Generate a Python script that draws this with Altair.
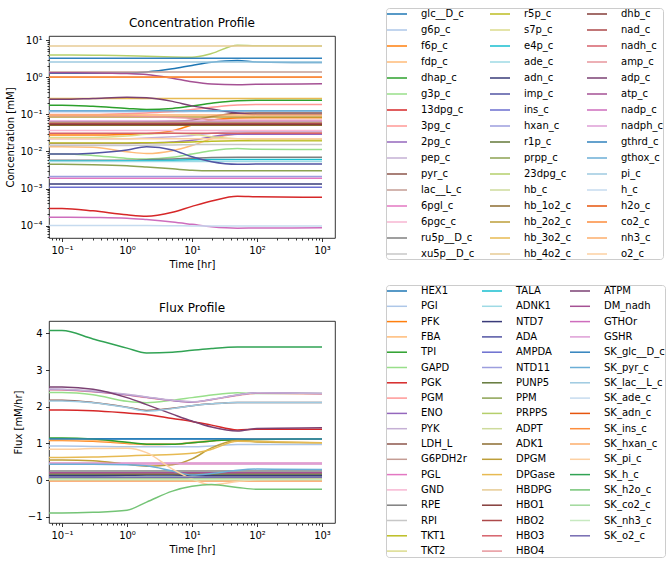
import altair as alt
import pandas as pd

# Sample times [hr]; the first entry stands for the initial state.
TIME = [0.01, 0.1, 0.3, 1, 2, 5, 10, 20, 50, 100, 1000]

# ---------------- metabolite concentrations [mM] ----------------
glc__D_c = [1.3, 1.3, 1.3, 1.32, 1.4, 1.7, 2.1, 2.55, 2.85, 2.6, 2.5]
g6p_c = [0.118, 0.118, 0.118, 0.118, 0.118, 0.118, 0.119, 0.12, 0.12, 0.12, 0.12]
f6p_c = [0.028, 0.028, 0.028, 0.029, 0.030, 0.036, 0.052, 0.07, 0.08, 0.081, 0.081]
fdp_c = [0.0135, 0.0135, 0.013, 0.0098, 0.0088, 0.0105, 0.0145, 0.022, 0.03, 0.032, 0.032]
dhap_c = [0.178, 0.178, 0.165, 0.145, 0.136, 0.145, 0.168, 0.2, 0.235, 0.24, 0.24]
g3p_c = [0.0085, 0.0085, 0.0078, 0.0065, 0.0063, 0.007, 0.0085, 0.0105, 0.012, 0.0115, 0.0113]
_13dpg_c = [2.9e-4, 2.9e-4, 2.5e-4, 1.95e-4, 1.8e-4, 2.3e-4, 3.3e-4, 4.6e-4, 6.2e-4, 6.0e-4, 5.8e-4]
_3pg_c = [0.1, 0.1, 0.1, 0.105, 0.11, 0.12, 0.135, 0.155, 0.18, 0.185, 0.185]
_2pg_c = [0.0165, 0.0165, 0.0165, 0.0165, 0.017, 0.018, 0.02, 0.025, 0.029, 0.029, 0.029]
pep_c = [0.022, 0.022, 0.022, 0.022, 0.023, 0.025, 0.027, 0.031, 0.034, 0.034, 0.034]
pyr_c = [0.062, 0.062, 0.062, 0.062, 0.063, 0.065, 0.07, 0.088, 0.107, 0.11, 0.11]
lac__L_c = [1.4, 1.4, 1.4, 1.4, 1.4, 1.4, 1.4, 1.4, 1.4, 1.4, 1.4]
_6pgl_c = [0.0019, 0.0019, 0.0019, 0.0019, 0.0019, 0.0019, 0.0019, 0.0019, 0.0019, 0.0019, 0.0019]
_6pgc_c = [0.037, 0.037, 0.037, 0.037, 0.037, 0.037, 0.037, 0.037, 0.037, 0.037, 0.037]
ru5p__D_c = [0.0058, 0.0058, 0.0058, 0.0058, 0.006, 0.0063, 0.0066, 0.0069, 0.007, 0.007, 0.007]
xu5p__D_c = [0.0145, 0.0145, 0.0145, 0.0146, 0.0148, 0.015, 0.0153, 0.0155, 0.0155, 0.0155, 0.0155]
r5p_c = [0.017, 0.017, 0.017, 0.017, 0.0172, 0.0175, 0.018, 0.019, 0.0195, 0.0195, 0.0195]
s7p_c = [0.024, 0.024, 0.024, 0.026, 0.029, 0.031, 0.029, 0.025, 0.022, 0.021, 0.021]
e4p_c = [0.0055, 0.0055, 0.0055, 0.0056, 0.0057, 0.0058, 0.006, 0.0061, 0.0061, 0.0061, 0.0061]
ade_c = [0.0054, 0.0054, 0.0054, 0.0054, 0.0054, 0.0054, 0.0054, 0.0054, 0.0054, 0.0054, 0.0054]
adn_c = [0.00133, 0.00133, 0.00133, 0.00133, 0.00133, 0.00133, 0.00133, 0.00133, 0.00133, 0.00133, 0.00133]
imp_c = [0.0085, 0.0085, 0.009, 0.011, 0.0135, 0.011, 0.0072, 0.0053, 0.0045, 0.0046, 0.0046]
ins_c = [0.00108, 0.00108, 0.00108, 0.00108, 0.00108, 0.00108, 0.00108, 0.00108, 0.00108, 0.00108, 0.00108]
hxan_c = [0.0021, 0.0021, 0.0021, 0.0021, 0.0021, 0.0021, 0.0021, 0.0021, 0.0021, 0.0021, 0.0021]
r1p_c = [0.062, 0.062, 0.062, 0.062, 0.062, 0.062, 0.062, 0.062, 0.062, 0.062, 0.062]
prpp_c = [0.0045, 0.0045, 0.0044, 0.0041, 0.0038, 0.0034, 0.0031, 0.003, 0.003, 0.003, 0.003]
_23dpg_c = [4.0, 4.0, 3.95, 3.85, 3.7, 3.55, 3.5, 4.4, 7.4, 7.1, 7.0]
hb_c = [0.06, 0.06, 0.06, 0.06, 0.06, 0.06, 0.06, 0.06, 0.06, 0.06, 0.06]
hb_1o2_c = [0.051, 0.051, 0.051, 0.051, 0.051, 0.051, 0.051, 0.051, 0.051, 0.051, 0.051]
hb_2o2_c = [0.085, 0.085, 0.085, 0.085, 0.085, 0.085, 0.085, 0.085, 0.085, 0.085, 0.085]
hb_3o2_c = [0.27, 0.27, 0.27, 0.27, 0.27, 0.27, 0.27, 0.27, 0.27, 0.27, 0.27]
hb_4o2_c = [7.0, 7.0, 7.0, 7.0, 7.0, 7.0, 7.0, 7.0, 7.0, 7.0, 7.0]
dhb_c = [0.054, 0.054, 0.054, 0.054, 0.054, 0.054, 0.054, 0.054, 0.054, 0.054, 0.054]
nad_c = [0.058, 0.058, 0.058, 0.058, 0.058, 0.058, 0.058, 0.058, 0.058, 0.058, 0.058]
nadh_c = [0.031, 0.031, 0.031, 0.031, 0.031, 0.031, 0.031, 0.031, 0.031, 0.031, 0.031]
amp_c = [0.092, 0.092, 0.092, 0.09, 0.088, 0.083, 0.078, 0.073, 0.07, 0.07, 0.07]
adp_c = [0.255, 0.255, 0.27, 0.29, 0.28, 0.225, 0.17, 0.14, 0.11, 0.1, 0.1]
atp_c = [1.33, 1.33, 1.32, 1.27, 1.2, 0.95, 0.76, 0.66, 0.63, 0.65, 0.67]
nadp_c = [1.68e-4, 1.68e-4, 1.65e-4, 1.58e-4, 1.45e-4, 1.25e-4, 1.08e-4, 9.3e-5, 8.5e-5, 8.6e-5, 8.7e-5]
nadph_c = [0.066, 0.066, 0.066, 0.066, 0.066, 0.066, 0.066, 0.066, 0.066, 0.066, 0.066]
gthrd_c = [3.26, 3.26, 3.26, 3.26, 3.26, 3.26, 3.26, 3.26, 3.26, 3.26, 3.26]
gthox_c = [0.125, 0.125, 0.125, 0.125, 0.125, 0.125, 0.125, 0.125, 0.125, 0.125, 0.125]
pi_c = [2.6, 2.6, 2.6, 2.6, 2.6, 2.6, 2.6, 2.6, 2.6, 2.6, 2.6]
h_c = [1.0e-4, 1.0e-4, 1.0e-4, 1.0e-4, 1.0e-4, 9.9e-5, 9.8e-5, 9.7e-5, 9.7e-5, 9.7e-5, 9.7e-5]
h2o_c = [1.0, 1.0, 1.0, 1.0, 1.0, 1.0, 1.0, 1.0, 1.0, 1.0, 1.0]
co2_c = [1.0, 1.0, 1.0, 1.0, 1.0, 1.0, 1.0, 1.0, 1.0, 1.0, 1.0]
nh3_c = [0.096, 0.096, 0.096, 0.096, 0.096, 0.096, 0.096, 0.096, 0.096, 0.096, 0.096]
o2_c = [0.022, 0.022, 0.022, 0.022, 0.022, 0.022, 0.022, 0.022, 0.022, 0.022, 0.022]

CONC_SERIES = [
    ("glc__D_c", glc__D_c), ("g6p_c", g6p_c), ("f6p_c", f6p_c), ("fdp_c", fdp_c),
    ("dhap_c", dhap_c), ("g3p_c", g3p_c), ("13dpg_c", _13dpg_c), ("3pg_c", _3pg_c),
    ("2pg_c", _2pg_c), ("pep_c", pep_c), ("pyr_c", pyr_c), ("lac__L_c", lac__L_c),
    ("6pgl_c", _6pgl_c), ("6pgc_c", _6pgc_c), ("ru5p__D_c", ru5p__D_c), ("xu5p__D_c", xu5p__D_c),
    ("r5p_c", r5p_c), ("s7p_c", s7p_c), ("e4p_c", e4p_c), ("ade_c", ade_c),
    ("adn_c", adn_c), ("imp_c", imp_c), ("ins_c", ins_c), ("hxan_c", hxan_c),
    ("r1p_c", r1p_c), ("prpp_c", prpp_c), ("23dpg_c", _23dpg_c), ("hb_c", hb_c),
    ("hb_1o2_c", hb_1o2_c), ("hb_2o2_c", hb_2o2_c), ("hb_3o2_c", hb_3o2_c), ("hb_4o2_c", hb_4o2_c),
    ("dhb_c", dhb_c), ("nad_c", nad_c), ("nadh_c", nadh_c), ("amp_c", amp_c),
    ("adp_c", adp_c), ("atp_c", atp_c), ("nadp_c", nadp_c), ("nadph_c", nadph_c),
    ("gthrd_c", gthrd_c), ("gthox_c", gthox_c), ("pi_c", pi_c), ("h_c", h_c),
    ("h2o_c", h2o_c), ("co2_c", co2_c), ("nh3_c", nh3_c), ("o2_c", o2_c),
]

# ---------------- reaction fluxes [mM/hr] ----------------
HEX1 = [1.13, 1.13, 1.13, 1.13, 1.13, 1.13, 1.13, 1.13, 1.13, 1.13, 1.13]
PGI = [0.93, 0.93, 0.92, 0.91, 0.91, 0.91, 0.91, 0.93, 0.97, 0.97, 0.97]
PFK = [1.08, 1.08, 1.06, 1.0, 0.97, 0.98, 1.02, 1.07, 1.1, 1.11, 1.12]
FBA = [1.1, 1.1, 1.08, 1.02, 0.99, 0.99, 1.03, 1.08, 1.11, 1.12, 1.12]
TPI = [1.15, 1.15, 1.12, 1.03, 0.98, 0.98, 1.02, 1.07, 1.1, 1.11, 1.12]
GAPD = [2.39, 2.39, 2.33, 2.15, 2.11, 2.18, 2.25, 2.32, 2.38, 2.36, 2.36]
PGK = [1.91, 1.91, 1.89, 1.83, 1.79, 1.68, 1.6, 1.5, 1.37, 1.39, 1.39]
PGM = [2.47, 2.46, 2.41, 2.32, 2.25, 2.17, 2.13, 2.19, 2.31, 2.37, 2.35]
ENO = [2.48, 2.47, 2.42, 2.33, 2.26, 2.17, 2.13, 2.2, 2.32, 2.38, 2.36]
PYK = [2.49, 2.48, 2.43, 2.34, 2.27, 2.18, 2.14, 2.2, 2.32, 2.38, 2.36]
LDH_L = [2.18, 2.18, 2.12, 1.99, 1.9, 1.96, 2.03, 2.08, 2.12, 2.12, 2.12]
G6PDH2r = [0.45, 0.45, 0.45, 0.45, 0.45, 0.45, 0.45, 0.45, 0.45, 0.45, 0.45]
PGL = [0.45, 0.45, 0.45, 0.45, 0.45, 0.45, 0.45, 0.45, 0.45, 0.45, 0.45]
GND = [0.45, 0.45, 0.45, 0.45, 0.45, 0.45, 0.45, 0.45, 0.45, 0.45, 0.45]
RPE = [0.25, 0.25, 0.25, 0.25, 0.25, 0.25, 0.25, 0.25, 0.25, 0.25, 0.25]
RPI = [0.2, 0.2, 0.2, 0.2, 0.2, 0.2, 0.2, 0.2, 0.2, 0.2, 0.2]
TKT1 = [0.15, 0.15, 0.15, 0.15, 0.15, 0.15, 0.15, 0.15, 0.15, 0.15, 0.15]
TKT2 = [0.1, 0.1, 0.1, 0.1, 0.1, 0.1, 0.1, 0.1, 0.1, 0.1, 0.1]
TALA = [0.15, 0.15, 0.15, 0.15, 0.15, 0.15, 0.15, 0.15, 0.15, 0.15, 0.15]
ADNK1 = [0.12, 0.12, 0.12, 0.12, 0.12, 0.12, 0.12, 0.12, 0.12, 0.12, 0.12]
NTD7 = [0.12, 0.12, 0.12, 0.13, 0.14, 0.14, 0.13, 0.12, 0.12, 0.12, 0.12]
ADA = [0.01, 0.01, 0.01, 0.01, 0.01, 0.01, 0.01, 0.01, 0.01, 0.01, 0.01]
AMPDA = [0.014, 0.014, 0.014, 0.014, 0.014, 0.014, 0.014, 0.014, 0.014, 0.014, 0.014]
NTD11 = [0.014, 0.014, 0.014, 0.014, 0.014, 0.014, 0.014, 0.014, 0.014, 0.014, 0.014]
PUNP5 = [0.014, 0.014, 0.014, 0.014, 0.014, 0.014, 0.014, 0.014, 0.014, 0.014, 0.014]
PPM = [0.014, 0.014, 0.014, 0.014, 0.014, 0.014, 0.014, 0.014, 0.014, 0.014, 0.014]
PRPPS = [0.014, 0.014, 0.014, 0.014, 0.014, 0.014, 0.014, 0.014, 0.014, 0.014, 0.014]
ADPT = [0.014, 0.014, 0.014, 0.014, 0.014, 0.014, 0.014, 0.014, 0.014, 0.014, 0.014]
ADK1 = [0.17, 0.17, 0.17, 0.17, 0.17, 0.17, 0.17, 0.17, 0.17, 0.17, 0.17]
DPGM = [0.55, 0.55, 0.53, 0.43, 0.38, 0.42, 0.58, 0.88, 1.09, 1.04, 1.02]
DPGase = [0.62, 0.62, 0.63, 0.66, 0.68, 0.7, 0.73, 0.84, 1.06, 1.05, 1.02]
HBDPG = [0.0, 0.0, 0.0, 0.0, 0.0, 0.0, 0.0, 0.0, 0.0, 0.0, 0.0]
HBO1 = [0.0, 0.0, 0.0, 0.0, 0.0, 0.0, 0.0, 0.0, 0.0, 0.0, 0.0]
HBO2 = [0.0, 0.0, 0.0, 0.0, 0.0, 0.0, 0.0, 0.0, 0.0, 0.0, 0.0]
HBO3 = [0.0, 0.0, 0.0, 0.0, 0.0, 0.0, 0.0, 0.0, 0.0, 0.0, 0.0]
HBO4 = [0.0, 0.0, 0.0, 0.0, 0.0, 0.0, 0.0, 0.0, 0.0, 0.0, 0.0]
ATPM = [2.55, 2.54, 2.48, 2.25, 2.06, 1.8, 1.61, 1.45, 1.34, 1.41, 1.43]
DM_nadh = [0.2, 0.2, 0.2, 0.2, 0.2, 0.2, 0.2, 0.2, 0.2, 0.2, 0.2]
GTHOr = [0.45, 0.45, 0.45, 0.45, 0.45, 0.45, 0.45, 0.45, 0.45, 0.45, 0.45]
GSHR = [0.45, 0.45, 0.45, 0.45, 0.45, 0.45, 0.45, 0.45, 0.45, 0.45, 0.45]
SK_glc__D_c = [1.12, 1.12, 1.12, 1.12, 1.12, 1.12, 1.12, 1.12, 1.12, 1.12, 1.12]
SK_pyr_c = [0.43, 0.43, 0.43, 0.42, 0.39, 0.25, 0.14, 0.18, 0.27, 0.3, 0.29]
SK_lac__L_c = [2.16, 2.16, 2.11, 1.98, 1.88, 1.95, 2.03, 2.08, 2.12, 2.12, 2.12]
SK_ade_c = [0.01, 0.01, 0.01, 0.01, 0.01, 0.01, 0.01, 0.01, 0.01, 0.01, 0.01]
SK_adn_c = [-0.01, -0.01, -0.01, -0.01, -0.01, -0.01, -0.01, -0.01, -0.01, -0.01, -0.01]
SK_ins_c = [-0.02, -0.02, -0.02, -0.02, -0.02, -0.02, -0.02, -0.02, -0.02, -0.02, -0.02]
SK_hxan_c = [0.0, 0.0, 0.0, 0.0, 0.0, 0.0, 0.0, 0.0, 0.0, 0.0, 0.0]
SK_pi_c = [0.84, 0.84, 0.86, 0.87, 0.75, 0.3, 0.03, -0.13, -0.04, 0.01, 0.03]
SK_h_c = [4.09, 4.08, 3.85, 3.6, 3.47, 3.49, 3.54, 3.59, 3.63, 3.63, 3.63]
SK_h2o_c = [-0.9, -0.9, -0.88, -0.82, -0.6, -0.3, -0.17, -0.12, -0.2, -0.25, -0.25]
SK_co2_c = [0.02, 0.02, 0.02, 0.02, 0.02, 0.02, 0.02, 0.02, 0.02, 0.02, 0.02]
SK_nh3_c = [0.01, 0.01, 0.01, 0.01, 0.01, 0.01, 0.01, 0.01, 0.01, 0.01, 0.01]
SK_o2_c = [0.08, 0.08, 0.08, 0.08, 0.08, 0.08, 0.08, 0.08, 0.08, 0.08, 0.08]

FLUX_SERIES = [
    ("HEX1", HEX1), ("PGI", PGI), ("PFK", PFK), ("FBA", FBA), ("TPI", TPI),
    ("GAPD", GAPD), ("PGK", PGK), ("PGM", PGM), ("ENO", ENO), ("PYK", PYK),
    ("LDH_L", LDH_L), ("G6PDH2r", G6PDH2r), ("PGL", PGL), ("GND", GND), ("RPE", RPE),
    ("RPI", RPI), ("TKT1", TKT1), ("TKT2", TKT2), ("TALA", TALA), ("ADNK1", ADNK1),
    ("NTD7", NTD7), ("ADA", ADA), ("AMPDA", AMPDA), ("NTD11", NTD11), ("PUNP5", PUNP5),
    ("PPM", PPM), ("PRPPS", PRPPS), ("ADPT", ADPT), ("ADK1", ADK1), ("DPGM", DPGM),
    ("DPGase", DPGase), ("HBDPG", HBDPG), ("HBO1", HBO1), ("HBO2", HBO2), ("HBO3", HBO3),
    ("HBO4", HBO4), ("ATPM", ATPM), ("DM_nadh", DM_nadh), ("GTHOr", GTHOr), ("GSHR", GSHR),
    ("SK_glc__D_c", SK_glc__D_c), ("SK_pyr_c", SK_pyr_c), ("SK_lac__L_c", SK_lac__L_c),
    ("SK_ade_c", SK_ade_c), ("SK_adn_c", SK_adn_c), ("SK_ins_c", SK_ins_c),
    ("SK_hxan_c", SK_hxan_c), ("SK_pi_c", SK_pi_c), ("SK_h_c", SK_h_c),
    ("SK_h2o_c", SK_h2o_c), ("SK_co2_c", SK_co2_c), ("SK_nh3_c", SK_nh3_c), ("SK_o2_c", SK_o2_c),
]

# tab20, tab20b and tab20c chained as the colour cycle
TAB20 = ["#1f77b4", "#aec7e8", "#ff7f0e", "#ffbb78", "#2ca02c", "#98df8a", "#d62728", "#ff9896",
         "#9467bd", "#c5b0d5", "#8c564b", "#c49c94", "#e377c2", "#f7b6d2", "#7f7f7f", "#c7c7c7",
         "#bcbd22", "#dbdb8d", "#17becf", "#9edae5"]
TAB20B = ["#393b79", "#5254a3", "#6b6ecf", "#9c9ede", "#637939", "#8ca252", "#b5cf6b", "#cedb9c",
          "#8c6d31", "#bd9e39", "#e7ba52", "#e7cb94", "#843c39", "#ad494a", "#d6616b", "#e7969c",
          "#7b4173", "#a55194", "#ce6dbd", "#de9ed6"]
TAB20C = ["#3182bd", "#6baed6", "#9ecae1", "#c6dbef", "#e6550d", "#fd8d3c", "#fdae6b", "#fdd0a2",
          "#31a354", "#74c476", "#a1d99b", "#c7e9c0", "#756bb1", "#9e9ac8", "#bcbddc", "#dadaeb",
          "#636363", "#969696", "#bdbdbd", "#d9d9d9"]
PALETTE = TAB20 + TAB20B + TAB20C

FONT = "DejaVu Sans"
SUP = {-4: "10⁻⁴", -3: "10⁻³", -2: "10⁻²", -1: "10⁻¹", 0: "10⁰", 1: "10¹", 2: "10²", 3: "10³"}

PLOT_W, PLOT_H = 286, 202
X_DOMAIN = [10 ** -1.2, 10 ** 3.2]
CONC_DOMAIN = [10 ** -4.335, 10 ** 1.116]
FLUX_DOMAIN = [-1.17, 4.34]

# legend handle: a horizontal dash twice as wide as the nominal symbol box
HANDLE_PATH = "M-2,0H2"


def long_frame(series):
    rows = []
    for name, values in series:
        for t, v in zip(TIME, values):
            rows.append({"t": t, "name": name, "v": v})
    return pd.DataFrame(rows)


def log_ticks(lo_exp, hi_exp, lo, hi):
    majors, ticks = [], []
    for e in range(lo_exp, hi_exp + 1):
        for m in range(1, 10):
            val = float(f"{m}e{e}")
            if lo <= val <= hi:
                ticks.append(val)
                if m == 1:
                    majors.append((val, e))
    return ticks, majors


def log_label_expr(majors):
    expr = "''"
    for val, e in reversed(majors):
        expr = f"datum.value == {val!r} ? '{SUP[e]}' : ({expr})"
    return expr


def major_test(majors):
    vals = ",".join(repr(v) for v, _ in majors)
    return f"indexof([{vals}], datum.value) >= 0"


x_ticks, x_majors = log_ticks(-2, 3, *X_DOMAIN)
c_ticks, c_majors = log_ticks(-5, 1, *CONC_DOMAIN)


def x_axis():
    return alt.Axis(
        values=x_ticks,
        labelExpr=log_label_expr(x_majors),
        tickSize={"condition": {"test": major_test(x_majors), "value": 3.5}, "value": 2},
        grid=False,
        title="Time [hr]",
        titlePadding=4,
    )


def profile(series, y_field, legend_y, row_pad, title, title_dy):
    names = [n for n, _ in series]
    colors = PALETTE[: len(names)]
    return (
        alt.Chart(long_frame(series))
        .mark_line(strokeWidth=1.5, interpolate="monotone", clip=True)
        .encode(
            x=alt.X("t:Q", scale=alt.Scale(type="log", domain=X_DOMAIN, nice=False), axis=x_axis()),
            y=y_field,
            color=alt.Color(
                "name:N",
                scale=alt.Scale(domain=names, range=colors),
                legend=alt.Legend(
                    title=None, orient="none", legendX=337, legendY=legend_y, columns=3,
                    symbolType=HANDLE_PATH, symbolSize=100, symbolStrokeWidth=1.5,
                    symbolOffset=5, symbolLimit=200,
                    labelFont=FONT, labelFontSize=10, labelColor="black", labelOffset=18,
                    labelLimit=200, rowPadding=row_pad, columnPadding=12, padding=0,
                    strokeColor="#cccccc", fillColor="white", cornerRadius=3,
                ),
            ),
        )
        .properties(
            width=PLOT_W, height=PLOT_H,
            title=alt.TitleParams(title, fontSize=12, font=FONT, fontWeight="normal",
                                  color="black", anchor="middle", frame="group", offset=6,
                                  dy=title_dy),
        )
    )


conc_y = alt.Y(
    "v:Q",
    scale=alt.Scale(type="log", domain=CONC_DOMAIN, nice=False),
    axis=alt.Axis(
        values=c_ticks,
        labelExpr=log_label_expr(c_majors),
        tickSize={"condition": {"test": major_test(c_majors), "value": 3.5}, "value": 2},
        grid=False,
        title="Concentration [mM]",
        titlePadding=4,
    ),
)

flux_y = alt.Y(
    "v:Q",
    scale=alt.Scale(domain=FLUX_DOMAIN, nice=False, zero=False),
    axis=alt.Axis(values=[-1, 0, 1, 2, 3, 4], tickSize=3.5, grid=False,
                  title="Flux [mM/hr]", titlePadding=4),
)

top = profile(CONC_SERIES, conc_y, -28, 5, "Concentration Profile", 28)
bottom = profile(FLUX_SERIES, flux_y, -36, 4.3, "Flux Profile", 36)

chart = (
    alt.vconcat(top, bottom, spacing=83, bounds="flush")
    .resolve_scale(color="independent")
    .resolve_legend(color="independent")
    .properties(padding={"left": 5, "top": 7, "right": 0, "bottom": 0}, background="white")
    .configure_view(stroke="black", strokeWidth=0.8)
    .configure_axis(
        grid=False, domain=False, tickColor="black", tickWidth=0.8,
        labelFont=FONT, labelFontSize=10, labelColor="black", labelPadding=3.5,
        labelOverlap=False, labelFlush=False,
        titleFont=FONT, titleFontSize=10, titleFontWeight="normal", titleColor="black",
    )
)

chart.save("out.html", embed_options={"renderer": "svg", "actions": False})
